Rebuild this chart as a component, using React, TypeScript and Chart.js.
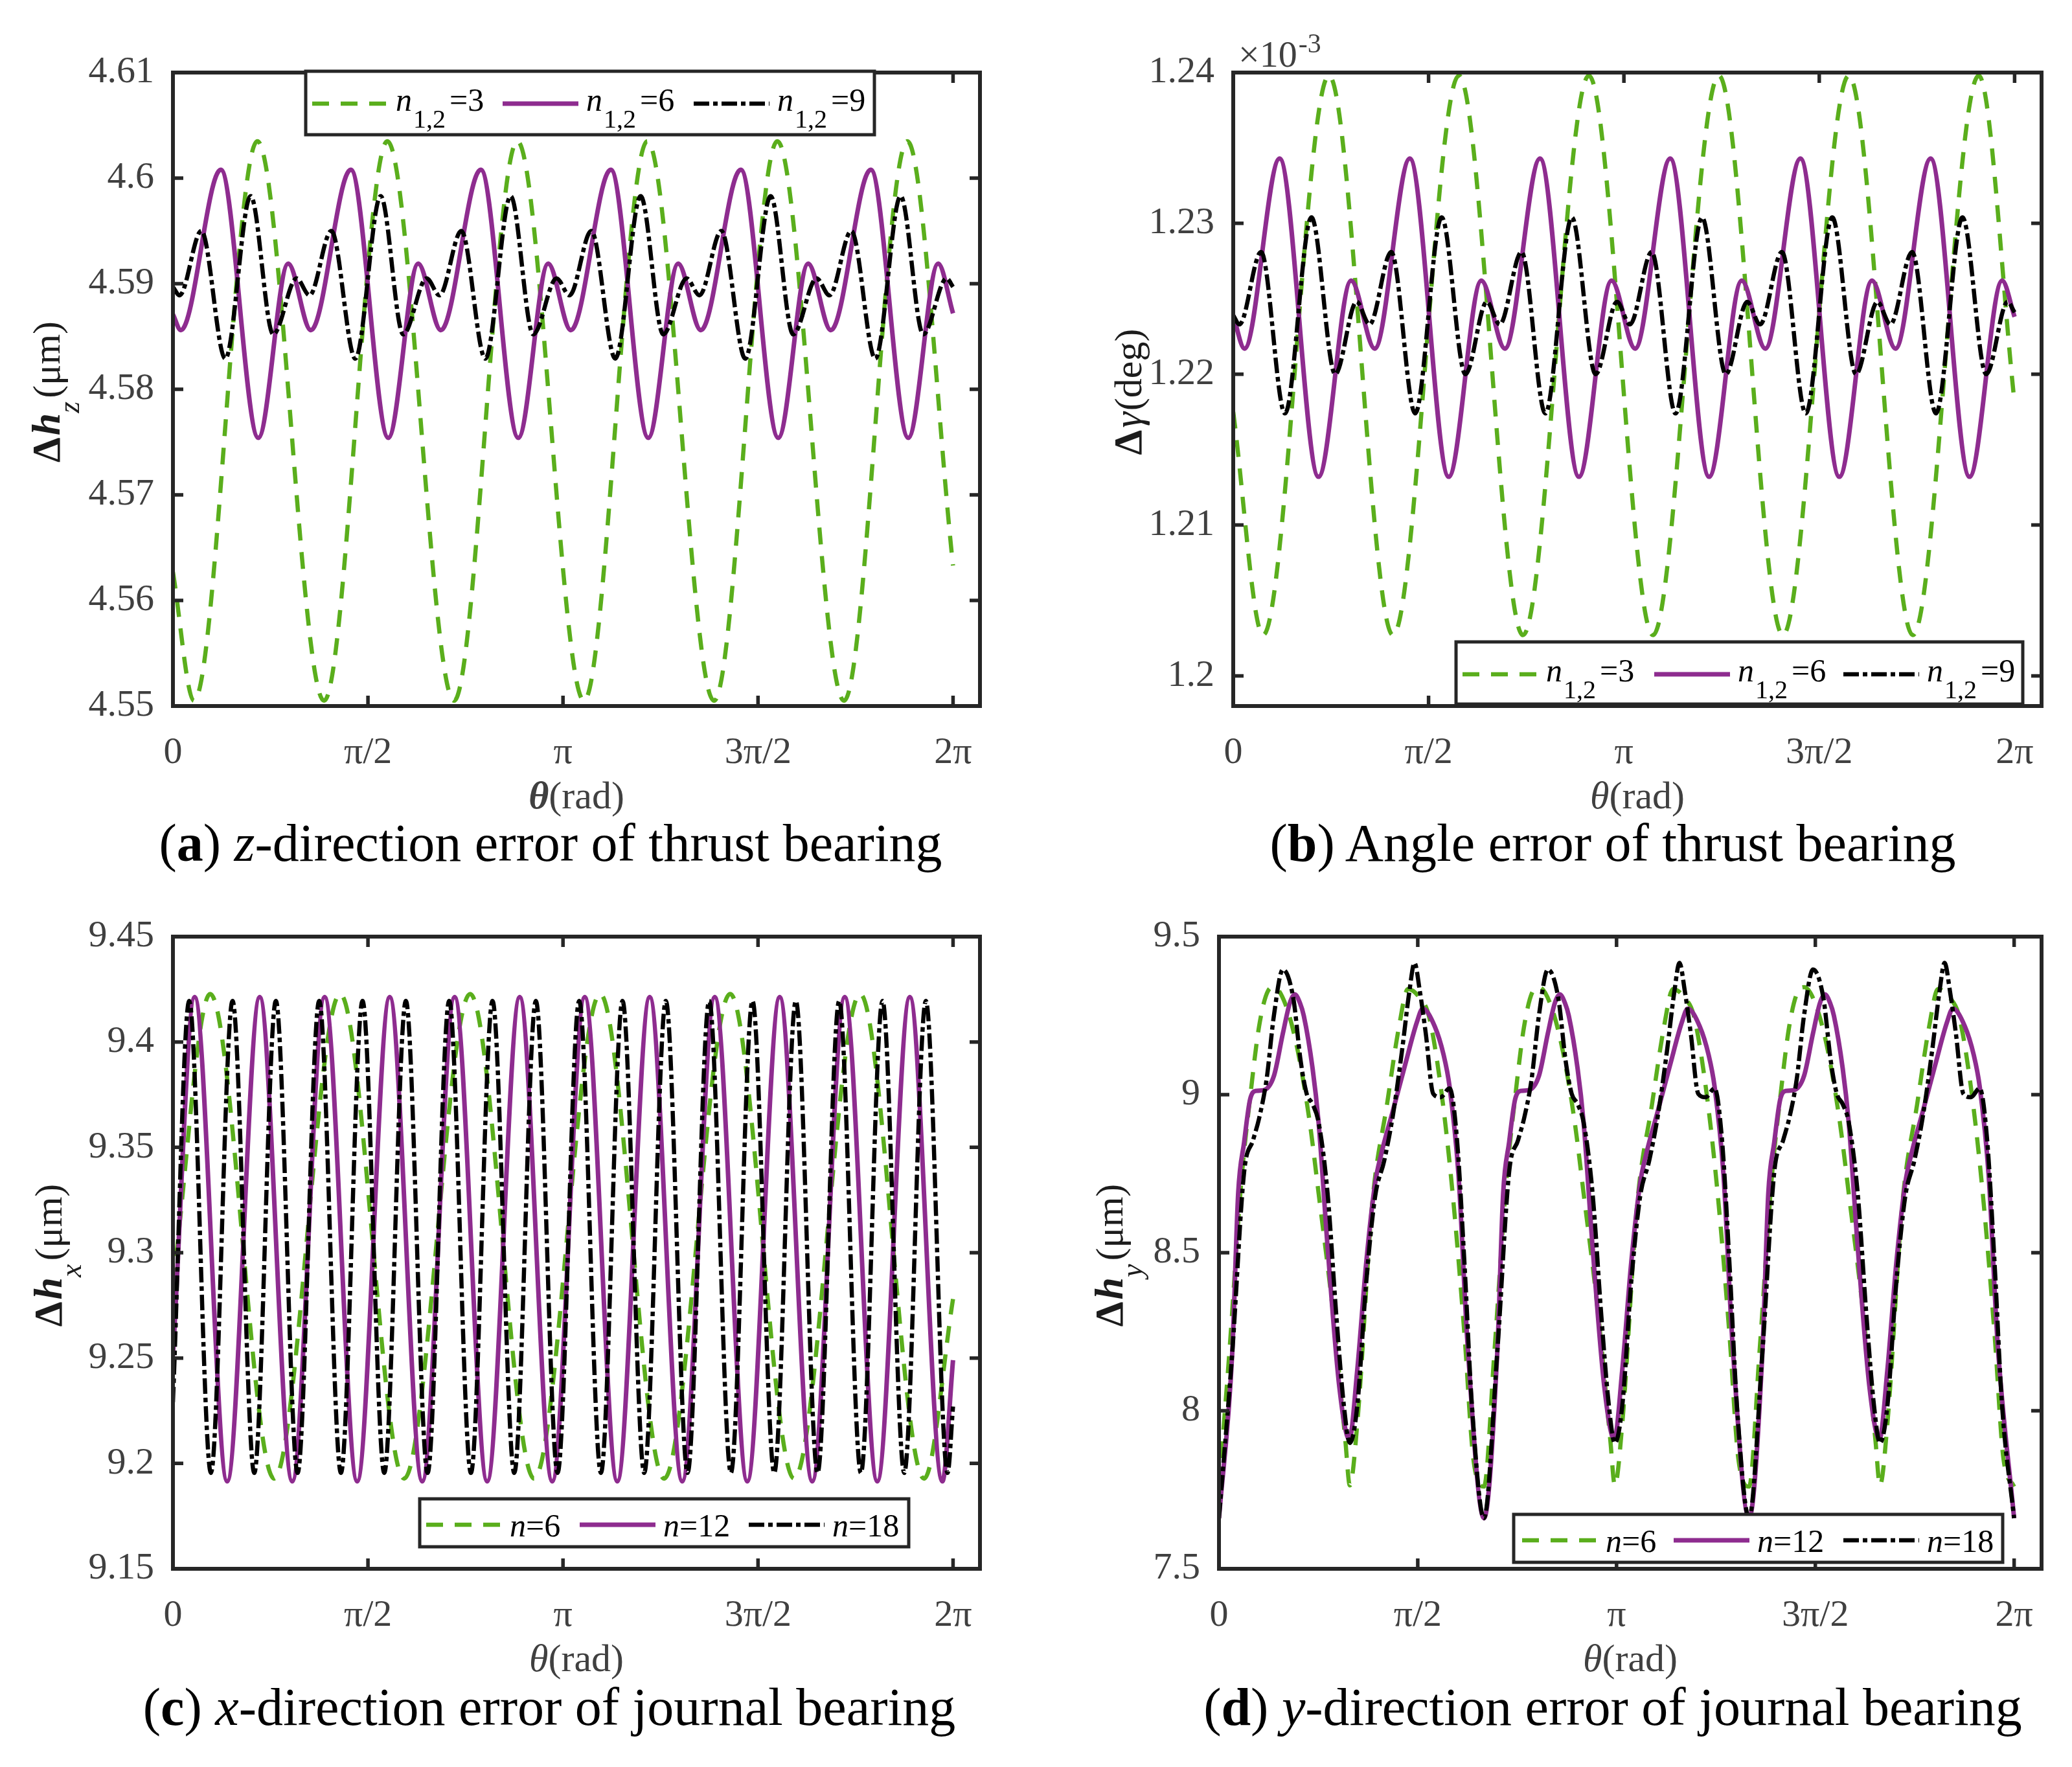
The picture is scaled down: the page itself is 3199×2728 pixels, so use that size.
import React, { useEffect, useRef } from 'react';
import { Chart, registerables } from 'chart.js';

Chart.register(...registerables);

const SERIF = "'Liberation Serif', 'Times New Roman', Times, serif";
const AXIS_COLOR = '#262626';
const TICK_TEXT = '#404040';
const LABEL_TEXT = '#1c1c1c';

const GREEN = '#5AAE1C';
const PURPLE = '#8E2C8F';
const BLACK = '#000000';

// ---------- shared x axis ----------
const THETA_MAX = 6.5;
const THETA_TICKS = [0, Math.PI / 2, Math.PI, (3 * Math.PI) / 2, 2 * Math.PI];
const THETA_TICK_LABELS = ['0', 'π/2', 'π', '3π/2', '2π'];

// ---------- (a) z-direction error of thrust bearing ----------
const A_Y_TICKS = [4.55, 4.56, 4.57, 4.58, 4.59, 4.6, 4.61];
const A_Y_TICK_LABELS = ['4.55', '4.56', '4.57', '4.58', '4.59', '4.6', '4.61'];
const A_N3_X = [0, 0.17, 0.68, 1.217, 1.727, 2.264, 2.774, 3.311, 3.821, 4.358, 4.868, 5.405, 5.915, 6.283];
const A_N3_Y = [4.5627, 4.5505, 4.6035, 4.5505, 4.6035, 4.5505, 4.6035, 4.5505, 4.6035, 4.5505, 4.6035, 4.5505, 4.6035, 4.5633];
const A_N6_X = [0, 0.064, 0.386, 0.688, 0.928, 1.111, 1.433, 1.735, 1.975, 2.158, 2.48, 2.782, 3.022, 3.205, 3.527, 3.829, 4.069, 4.252, 4.574, 4.876, 5.116, 5.299, 5.621, 5.923, 6.163, 6.283];
const A_N6_Y = [4.5871, 4.5856, 4.6008, 4.5754, 4.5919, 4.5856, 4.6008, 4.5754, 4.5919, 4.5856, 4.6008, 4.5754, 4.5919, 4.5856, 4.6008, 4.5754, 4.5919, 4.5856, 4.6008, 4.5754, 4.5919, 4.5856, 4.6008, 4.5754, 4.5919, 4.5872];
const A_N9_X = [0, 0.053, 0.229, 0.422, 0.626, 0.808, 0.996, 1.1, 1.276, 1.469, 1.673, 1.855, 2.043, 2.147, 2.323, 2.516, 2.72, 2.902, 3.09, 3.194, 3.37, 3.563, 3.767, 3.949, 4.137, 4.241, 4.417, 4.61, 4.814, 4.996, 5.184, 5.288, 5.464, 5.657, 5.861, 6.043, 6.231, 6.283];
const A_N9_Y = [4.5897, 4.5889, 4.595, 4.5829, 4.5983, 4.5852, 4.5905, 4.5889, 4.595, 4.5829, 4.5983, 4.5852, 4.5905, 4.5889, 4.595, 4.5829, 4.5983, 4.5852, 4.5905, 4.5889, 4.595, 4.5829, 4.5983, 4.5852, 4.5905, 4.5889, 4.595, 4.5829, 4.5983, 4.5852, 4.5905, 4.5889, 4.595, 4.5829, 4.5983, 4.5852, 4.5905, 4.5897];

// ---------- (b) angle error of thrust bearing (x 1e-3 deg) ----------
const B_Y_TICKS = [1.2, 1.21, 1.22, 1.23, 1.24];
const B_Y_TICK_LABELS = ['1.2', '1.21', '1.22', '1.23', '1.24'];
const B_N3_X = [0, 0.24, 0.77, 1.285, 1.815, 2.33, 2.86, 3.375, 3.905, 4.42, 4.95, 5.465, 5.995, 6.283];
const B_N3_Y = [1.2175, 1.2027, 1.2398, 1.2027, 1.2398, 1.2027, 1.2398, 1.2027, 1.2398, 1.2027, 1.2398, 1.2027, 1.2398, 1.2181];
const B_N6_X = [0, 0.091, 0.373, 0.686, 0.948, 1.138, 1.42, 1.733, 1.995, 2.185, 2.467, 2.78, 3.042, 3.232, 3.514, 3.827, 4.089, 4.279, 4.561, 4.874, 5.136, 5.326, 5.608, 5.921, 6.183, 6.283];
const B_N6_Y = [1.2239, 1.2217, 1.2343, 1.2132, 1.2262, 1.2217, 1.2343, 1.2132, 1.2262, 1.2217, 1.2343, 1.2132, 1.2262, 1.2217, 1.2343, 1.2132, 1.2262, 1.2217, 1.2343, 1.2132, 1.2262, 1.2217, 1.2343, 1.2132, 1.2262, 1.2238];
const B_N9_X = [0, 0.05, 0.224, 0.416, 0.629, 0.82, 0.992, 1.096, 1.271, 1.463, 1.676, 1.867, 2.039, 2.143, 2.318, 2.51, 2.723, 2.914, 3.086, 3.19, 3.365, 3.557, 3.77, 3.961, 4.133, 4.237, 4.412, 4.604, 4.817, 5.008, 5.18, 5.284, 5.459, 5.651, 5.864, 6.055, 6.227, 6.283];
const B_N9_Y = [1.2239, 1.2233, 1.2281, 1.2174, 1.2304, 1.22, 1.2248, 1.2233, 1.2281, 1.2174, 1.2304, 1.22, 1.2248, 1.2233, 1.2281, 1.2174, 1.2304, 1.22, 1.2248, 1.2233, 1.2281, 1.2174, 1.2304, 1.22, 1.2248, 1.2233, 1.2281, 1.2174, 1.2304, 1.22, 1.2248, 1.2233, 1.2281, 1.2174, 1.2304, 1.22, 1.2248, 1.2241];

// ---------- (c) x-direction error of journal bearing ----------
const C_Y_TICKS = [9.15, 9.2, 9.25, 9.3, 9.35, 9.4, 9.45];
const C_Y_TICK_LABELS = ['9.15', '9.2', '9.25', '9.3', '9.35', '9.4', '9.45'];
const C_N6_X = [0, 0.3, 0.815, 1.347, 1.862, 2.394, 2.909, 3.441, 3.956, 4.488, 5.003, 5.535, 6.05, 6.283];
const C_N6_Y = [9.285, 9.4228, 9.1928, 9.4228, 9.1928, 9.4228, 9.1928, 9.4228, 9.1928, 9.4228, 9.1928, 9.4228, 9.1928, 9.278];
const C_N12_X = [0, 0.175, 0.437, 0.699, 0.961, 1.222, 1.484, 1.746, 2.008, 2.269, 2.531, 2.793, 3.055, 3.317, 3.579, 3.84, 4.102, 4.364, 4.626, 4.887, 5.149, 5.411, 5.673, 5.935, 6.197, 6.283];
const C_N12_Y = [9.251, 9.4213, 9.1915, 9.4213, 9.1915, 9.4213, 9.1915, 9.4213, 9.1915, 9.4213, 9.1915, 9.4213, 9.1915, 9.4213, 9.1915, 9.4213, 9.1915, 9.4213, 9.1915, 9.4213, 9.1915, 9.4213, 9.1915, 9.4213, 9.1915, 9.249];
const C_N18_X = [0, 0.131, 0.306, 0.48, 0.655, 0.829, 1.004, 1.178, 1.353, 1.527, 1.702, 1.876, 2.051, 2.225, 2.4, 2.574, 2.749, 2.923, 3.098, 3.272, 3.447, 3.621, 3.796, 3.97, 4.145, 4.319, 4.494, 4.668, 4.843, 5.017, 5.192, 5.366, 5.541, 5.715, 5.89, 6.064, 6.239, 6.283];
const C_N18_Y = [9.229, 9.4195, 9.1955, 9.4195, 9.1955, 9.4195, 9.1955, 9.4195, 9.1955, 9.4195, 9.1955, 9.4195, 9.1955, 9.4195, 9.1955, 9.4195, 9.1955, 9.4195, 9.1955, 9.4195, 9.1955, 9.4195, 9.1955, 9.4195, 9.1955, 9.4195, 9.1955, 9.4195, 9.1955, 9.4195, 9.1955, 9.4195, 9.1955, 9.4195, 9.1955, 9.4195, 9.1955, 9.227];

// ---------- (d) y-direction error of journal bearing ----------
const D_Y_TICKS = [7.5, 8, 8.5, 9, 9.5];
const D_Y_TICK_LABELS = ['7.5', '8', '8.5', '9', '9.5'];
const D_N6_X = [
  0, 0.082, 0.176, 0.246, 0.317, 0.387, 0.435, 0.528, 0.623, 0.717, 0.787, 0.905, 0.999, 1.034, 1.093, 1.211, 1.328, 1.423, 1.493, 1.587, 1.658, 1.752, 1.846, 1.94, 2.01,
  2.094, 2.176, 2.27, 2.34, 2.411, 2.481, 2.529, 2.622, 2.717, 2.811, 2.881, 2.999, 3.093, 3.128, 3.187, 3.305, 3.422, 3.517, 3.587, 3.681, 3.752, 3.846, 3.94, 4.034, 4.104,
  4.189, 4.271, 4.365, 4.435, 4.506, 4.576, 4.624, 4.717, 4.812, 4.906, 4.976, 5.094, 5.188, 5.223, 5.282, 5.4, 5.517, 5.612, 5.682, 5.776, 5.847, 5.941, 6.035, 6.129, 6.199,
  6.283,
];
const D_N6_Y = [
  7.76, 8.184, 8.723, 8.99, 9.216, 9.328, 9.34, 9.283, 9.138, 8.913, 8.689, 8.297, 7.904, 7.764, 7.96, 8.655, 8.97, 9.216, 9.334, 9.306, 9.25, 9.026, 8.689, 8.24, 7.848,
  7.76, 8.184, 8.723, 8.99, 9.216, 9.328, 9.34, 9.283, 9.138, 8.913, 8.689, 8.297, 7.904, 7.764, 7.96, 8.655, 8.97, 9.216, 9.334, 9.306, 9.25, 9.026, 8.689, 8.24, 7.848,
  7.76, 8.184, 8.723, 8.99, 9.216, 9.328, 9.34, 9.283, 9.138, 8.913, 8.689, 8.297, 7.904, 7.764, 7.96, 8.655, 8.97, 9.216, 9.334, 9.306, 9.25, 9.026, 8.689, 8.24, 7.848,
  7.76,
];
const D_N12_X = [
  0, 0.105, 0.152, 0.199, 0.246, 0.293, 0.352, 0.434, 0.505, 0.56, 0.599, 0.64, 0.67, 0.74, 0.787, 0.858, 0.952, 1.03, 1.093, 1.164, 1.234, 1.281, 1.375, 1.47, 1.563, 1.61, 1.705, 1.775, 1.822, 1.893, 1.963,
  2.094, 2.199, 2.246, 2.293, 2.34, 2.387, 2.446, 2.528, 2.599, 2.654, 2.693, 2.734, 2.764, 2.834, 2.881, 2.952, 3.046, 3.124, 3.187, 3.258, 3.328, 3.375, 3.469, 3.564, 3.657, 3.704, 3.799, 3.869, 3.916, 3.987, 4.057,
  4.189, 4.294, 4.341, 4.388, 4.435, 4.482, 4.541, 4.623, 4.694, 4.749, 4.788, 4.829, 4.859, 4.929, 4.976, 5.047, 5.141, 5.219, 5.282, 5.353, 5.423, 5.47, 5.564, 5.659, 5.752, 5.799, 5.894, 5.964, 6.011, 6.082, 6.152,
  6.283,
];
const D_N12_Y = [
  7.66, 8.184, 8.689, 8.85, 8.985, 9.012, 9.014, 9.059, 9.194, 9.29, 9.317, 9.29, 9.25, 9.082, 8.913, 8.52, 8.072, 7.91, 8.13, 8.47, 8.72, 8.81, 8.95, 9.093, 9.228, 9.272, 9.216, 9.126, 9.026, 8.745, 8.218,
  7.66, 8.184, 8.689, 8.85, 8.985, 9.012, 9.014, 9.059, 9.194, 9.29, 9.317, 9.29, 9.25, 9.082, 8.913, 8.52, 8.072, 7.91, 8.13, 8.47, 8.72, 8.81, 8.95, 9.093, 9.228, 9.272, 9.216, 9.126, 9.026, 8.745, 8.218,
  7.66, 8.184, 8.689, 8.85, 8.985, 9.012, 9.014, 9.059, 9.194, 9.29, 9.317, 9.29, 9.25, 9.082, 8.913, 8.52, 8.072, 7.91, 8.13, 8.47, 8.72, 8.81, 8.95, 9.093, 9.228, 9.272, 9.216, 9.126, 9.026, 8.745, 8.218,
  7.66,
];
const D_N18_X = [
  0, 0.105, 0.199, 0.27, 0.317, 0.376, 0.434, 0.505, 0.587, 0.646, 0.693, 0.74, 0.787, 0.858, 0.928, 0.987, 1.034, 1.093, 1.164, 1.234, 1.305, 1.375, 1.446, 1.505, 1.545, 1.587, 1.634, 1.693, 1.752, 1.822, 1.881, 1.94, 1.999,
  2.094, 2.199, 2.293, 2.364, 2.411, 2.47, 2.528, 2.599, 2.681, 2.74, 2.787, 2.834, 2.881, 2.952, 3.022, 3.081, 3.128, 3.187, 3.258, 3.328, 3.399, 3.469, 3.54, 3.599, 3.639, 3.681, 3.728, 3.787, 3.846, 3.916, 3.975, 4.034, 4.093,
  4.189, 4.294, 4.388, 4.459, 4.506, 4.565, 4.623, 4.694, 4.776, 4.835, 4.882, 4.929, 4.976, 5.047, 5.117, 5.176, 5.223, 5.282, 5.353, 5.423, 5.494, 5.564, 5.635, 5.694, 5.734, 5.776, 5.823, 5.882, 5.941, 6.011, 6.07, 6.129, 6.188,
  6.283,
];
const D_N18_Y = [
  7.66, 8.184, 8.756, 8.857, 8.925, 9.048, 9.25, 9.396, 9.306, 9.105, 9.003, 8.97, 8.913, 8.689, 8.297, 8.016, 7.898, 8.016, 8.409, 8.678, 8.79, 8.936, 9.138, 9.328, 9.417, 9.328, 9.194, 9.003, 8.992, 9.02, 8.857, 8.465, 8.016,
  7.66, 8.184, 8.756, 8.857, 8.925, 9.048, 9.25, 9.396, 9.306, 9.105, 9.003, 8.97, 8.913, 8.689, 8.297, 8.016, 7.898, 8.016, 8.409, 8.678, 8.79, 8.936, 9.138, 9.328, 9.417, 9.328, 9.194, 9.003, 8.992, 9.02, 8.857, 8.465, 8.016,
  7.66, 8.184, 8.756, 8.857, 8.925, 9.048, 9.25, 9.396, 9.306, 9.105, 9.003, 8.97, 8.913, 8.689, 8.297, 8.016, 7.898, 8.016, 8.409, 8.678, 8.79, 8.936, 9.138, 9.328, 9.417, 9.328, 9.194, 9.003, 8.992, 9.02, 8.857, 8.465, 8.016,
  7.66,
];

// ---------- text helpers ----------
type Seg = { t: string; font: string; dx?: number; dy?: number };

function segsWidth(ctx: CanvasRenderingContext2D, segs: Seg[]) {
  let w = 0;
  for (const s of segs) {
    ctx.font = s.font;
    w += (s.dx || 0) + ctx.measureText(s.t).width;
  }
  return w;
}

function drawSegs(ctx: CanvasRenderingContext2D, segs: Seg[], x: number, y: number) {
  let cx = x;
  for (const s of segs) {
    ctx.font = s.font;
    cx += s.dx || 0;
    ctx.fillText(s.t, cx, y + (s.dy || 0));
    cx += ctx.measureText(s.t).width;
  }
}

const LEG_IT = `italic 50px ${SERIF}`;
const LEG_R = `50px ${SERIF}`;
const LEG_SUB = `40px ${SERIF}`;
const legN12 = (v: string): Seg[] => [
  { t: 'n', font: LEG_IT },
  { t: '1,2', font: LEG_SUB, dx: 2, dy: 26 },
  { t: '=' + v, font: LEG_R, dx: 6 },
];
const legN = (v: string): Seg[] => [
  { t: 'n', font: LEG_IT },
  { t: '=' + v, font: LEG_R },
];

const YL_D = `bold 62px ${SERIF}`;
const YL_H = `bold italic 62px ${SERIF}`;
const YL_G = `italic 62px ${SERIF}`;
const YL_SUB = `italic 46px ${SERIF}`;
const YL_R = `60px ${SERIF}`;
const yLabelH = (sub: string): Seg[] => [
  { t: 'Δ', font: YL_D },
  { t: 'h', font: YL_H, dx: 3 },
  { t: sub, font: YL_SUB, dy: 30 },
  { t: '(μm)', font: YL_R, dx: 5 },
];
const xLabel = (bold: boolean): Seg[] => [
  { t: 'θ', font: `${bold ? 'bold ' : ''}italic 60px ${SERIF}` },
  { t: '(rad)', font: `60px ${SERIF}` },
];

// ---------- panel specs ----------
interface SeriesSpec { x: number[]; y: number[]; color: string; width: number; dash: number[] }
interface LegendSpec {
  anchor: 'tl' | 'br'; dx: number; dy: number; w: number; h: number;
  offsets: number[]; lineDy: number; textDy: number; labels: Seg[][];
}
interface PanelSpec {
  id: string; left: number; top: number; width: number; height: number;
  area: { left: number; top: number; right: number; bottom: number };
  yMin: number; yMax: number; yTicks: number[]; yTickLabels: string[];
  series: SeriesSpec[]; legend: LegendSpec;
  yLabel: Seg[]; yLabelDx: number; xLabel: Seg[];
  extra?: { segs: Seg[]; dx: number; dy: number };
}

const GREEN_STYLE = { color: GREEN, width: 6.5, dash: [26, 18] };
const PURPLE_STYLE = { color: PURPLE, width: 7, dash: [] as number[] };
const BLACK_STYLE = { color: BLACK, width: 6.5, dash: [24, 6, 7, 6] };

const PANELS: PanelSpec[] = [
  {
    id: 'a', left: 0, top: 0, width: 1600, height: 1290,
    area: { left: 267, top: 112, right: 1513, bottom: 1090 },
    yMin: 4.55, yMax: 4.61, yTicks: A_Y_TICKS, yTickLabels: A_Y_TICK_LABELS,
    series: [
      { x: A_N3_X, y: A_N3_Y, ...GREEN_STYLE },
      { x: A_N6_X, y: A_N6_Y, ...PURPLE_STYLE },
      { x: A_N9_X, y: A_N9_Y, ...BLACK_STYLE },
    ],
    legend: { anchor: 'tl', dx: 205, dy: -2, w: 878, h: 98, offsets: [10, 304, 599], lineDy: 50, textDy: 61, labels: [legN12('3'), legN12('6'), legN12('9')] },
    yLabel: yLabelH('z'), yLabelDx: -175, xLabel: xLabel(true),
  },
  {
    id: 'b', left: 1600, top: 0, width: 1599, height: 1290,
    area: { left: 304, top: 112, right: 1552, bottom: 1090 },
    yMin: 1.198, yMax: 1.24, yTicks: B_Y_TICKS, yTickLabels: B_Y_TICK_LABELS,
    series: [
      { x: B_N3_X, y: B_N3_Y, ...GREEN_STYLE },
      { x: B_N6_X, y: B_N6_Y, ...PURPLE_STYLE },
      { x: B_N9_X, y: B_N9_Y, ...BLACK_STYLE },
    ],
    legend: { anchor: 'br', dx: 29, dy: 3, w: 875, h: 96, offsets: [10, 306, 598], lineDy: 50, textDy: 61, labels: [legN12('3'), legN12('6'), legN12('9')] },
    yLabel: [
      { t: 'Δ', font: YL_D },
      { t: 'γ', font: YL_G, dx: 3 },
      { t: '(deg)', font: YL_R, dx: 2 },
    ],
    yLabelDx: -142, xLabel: xLabel(false),
    extra: { segs: [{ t: '×10', font: `58px ${SERIF}` }, { t: '-3', font: `42px ${SERIF}`, dx: 2, dy: -22 }], dx: 8, dy: -9 },
  },
  {
    id: 'c', left: 0, top: 1290, width: 1600, height: 1438,
    area: { left: 267, top: 156, right: 1513, bottom: 1132 },
    yMin: 9.15, yMax: 9.45, yTicks: C_Y_TICKS, yTickLabels: C_Y_TICK_LABELS,
    series: [
      { x: C_N6_X, y: C_N6_Y, ...GREEN_STYLE },
      { x: C_N12_X, y: C_N12_Y, ...PURPLE_STYLE },
      { x: C_N18_X, y: C_N18_Y, ...BLACK_STYLE },
    ],
    legend: { anchor: 'br', dx: 110, dy: 34, w: 755, h: 74, offsets: [10, 247, 508], lineDy: 40, textDy: 58, labels: [legN('6'), legN('12'), legN('18')] },
    yLabel: yLabelH('x'), yLabelDx: -172, xLabel: xLabel(false),
  },
  {
    id: 'd', left: 1600, top: 1290, width: 1599, height: 1438,
    area: { left: 282, top: 156, right: 1552, bottom: 1132 },
    yMin: 7.5, yMax: 9.5, yTicks: D_Y_TICKS, yTickLabels: D_Y_TICK_LABELS,
    series: [
      { x: D_N6_X, y: D_N6_Y, ...GREEN_STYLE },
      { x: D_N12_X, y: D_N12_Y, ...PURPLE_STYLE },
      { x: D_N18_X, y: D_N18_Y, ...BLACK_STYLE },
    ],
    legend: { anchor: 'br', dx: 60, dy: 10, w: 755, h: 74, offsets: [13, 247, 509], lineDy: 40, textDy: 58, labels: [legN('6'), legN('12'), legN('18')] },
    yLabel: yLabelH('y'), yLabelDx: -149, xLabel: xLabel(false),
  },
];

// ---------- plugin: MATLAB-like box, inward ticks, legend, axis labels ----------
function makePlugin(p: PanelSpec) {
  const SAMPLE = 117;
  const TL = 16;
  return {
    id: 'matlab-' + p.id,
    afterDatasetsDraw(chart: any) {
      const ctx = chart.ctx as CanvasRenderingContext2D;
      const ca = chart.chartArea;
      const xs = chart.scales.x;
      const ys = chart.scales.y;
      ctx.save();
      ctx.setLineDash([]);
      ctx.strokeStyle = AXIS_COLOR;
      ctx.lineWidth = 5.5;
      ctx.lineCap = 'butt';
      ctx.beginPath();
      for (const t of xs.ticks) {
        const px = xs.getPixelForValue(t.value);
        ctx.moveTo(px, ca.bottom); ctx.lineTo(px, ca.bottom - TL);
        ctx.moveTo(px, ca.top); ctx.lineTo(px, ca.top + TL);
      }
      for (const t of ys.ticks) {
        const py = ys.getPixelForValue(t.value);
        ctx.moveTo(ca.left, py); ctx.lineTo(ca.left + TL, py);
        ctx.moveTo(ca.right, py); ctx.lineTo(ca.right - TL, py);
      }
      ctx.stroke();
      ctx.lineWidth = 6;
      ctx.lineJoin = 'miter';
      ctx.strokeRect(ca.left, ca.top, ca.right - ca.left, ca.bottom - ca.top);

      // legend
      const lg = p.legend;
      const bx = lg.anchor === 'tl' ? ca.left + lg.dx : ca.right - lg.dx - lg.w;
      const by = lg.anchor === 'tl' ? ca.top + lg.dy : ca.bottom - lg.dy - lg.h;
      ctx.fillStyle = '#ffffff';
      ctx.fillRect(bx, by, lg.w, lg.h);
      ctx.strokeStyle = AXIS_COLOR;
      ctx.lineWidth = 5;
      ctx.strokeRect(bx, by, lg.w, lg.h);
      p.series.forEach((s, i) => {
        const ox = bx + lg.offsets[i];
        ctx.strokeStyle = s.color;
        ctx.lineWidth = s.width;
        ctx.setLineDash(s.dash);
        ctx.beginPath();
        ctx.moveTo(ox, by + lg.lineDy);
        ctx.lineTo(ox + SAMPLE, by + lg.lineDy);
        ctx.stroke();
        ctx.setLineDash([]);
        ctx.fillStyle = '#000000';
        ctx.textAlign = 'left';
        ctx.textBaseline = 'alphabetic';
        drawSegs(ctx, lg.labels[i], ox + SAMPLE + 12, by + lg.textDy);
      });
      ctx.restore();
    },
    afterDraw(chart: any) {
      const ctx = chart.ctx as CanvasRenderingContext2D;
      const ca = chart.chartArea;
      ctx.save();
      ctx.textAlign = 'left';
      ctx.textBaseline = 'alphabetic';
      // y label (rotated)
      ctx.fillStyle = LABEL_TEXT;
      const yw = segsWidth(ctx, p.yLabel);
      ctx.save();
      ctx.translate(ca.left + p.yLabelDx, (ca.top + ca.bottom) / 2 + 4);
      ctx.rotate(-Math.PI / 2);
      drawSegs(ctx, p.yLabel, -yw / 2, 0);
      ctx.restore();
      // x label
      ctx.fillStyle = TICK_TEXT;
      const xw = segsWidth(ctx, p.xLabel);
      drawSegs(ctx, p.xLabel, (ca.left + ca.right) / 2 - xw / 2, ca.bottom + 158);
      // exponent
      if (p.extra) {
        drawSegs(ctx, p.extra.segs, ca.left + p.extra.dx, ca.top + p.extra.dy);
      }
      ctx.restore();
    },
  };
}

function buildConfig(p: PanelSpec): any {
  const tickFont = { family: SERIF, size: 58 };
  const datasets = p.series.map((s, i) => ({
    data: s.x.map((x, k) => ({ x, y: s.y[k] })),
    borderColor: s.color,
    borderWidth: s.width,
    borderDash: s.dash,
    borderCapStyle: 'butt',
    borderJoinStyle: 'round',
    pointRadius: 0,
    pointHoverRadius: 0,
    fill: false,
    cubicInterpolationMode: 'monotone',
    order: p.series.length - i,
  }));
  return {
    type: 'line',
    data: { datasets },
    options: {
      responsive: false,
      animation: false,
      devicePixelRatio: 1,
      events: [],
      layout: { padding: { left: 0, top: p.area.top, right: p.width - p.area.right, bottom: 0 } },
      plugins: { legend: { display: false }, tooltip: { enabled: false }, title: { display: false } },
      scales: {
        x: {
          type: 'linear',
          min: 0,
          max: THETA_MAX,
          grid: { display: false },
          border: { display: false },
          afterBuildTicks: (scale: any) => { scale.ticks = THETA_TICKS.map((v) => ({ value: v })); },
          afterFit: (scale: any) => { scale.height = p.height - p.area.bottom; },
          ticks: {
            font: tickFont, color: TICK_TEXT, padding: 30, autoSkip: false, maxRotation: 0, minRotation: 0,
            callback: (_v: any, i: number) => THETA_TICK_LABELS[i],
          },
        },
        y: {
          type: 'linear',
          min: p.yMin,
          max: p.yMax,
          grid: { display: false },
          border: { display: false },
          afterBuildTicks: (scale: any) => { scale.ticks = p.yTicks.map((v) => ({ value: v })); },
          afterFit: (scale: any) => { scale.width = p.area.left; },
          ticks: {
            font: tickFont, color: TICK_TEXT, padding: 21, autoSkip: false,
            callback: (_v: any, i: number) => p.yTickLabels[i],
          },
        },
      },
    },
    plugins: [makePlugin(p)],
  };
}

function PanelChart({ panel }: { panel: PanelSpec }) {
  const ref = useRef<HTMLCanvasElement | null>(null);
  useEffect(() => {
    if (!ref.current) return;
    const chart = new Chart(ref.current, buildConfig(panel));
    return () => chart.destroy();
  }, [panel]);
  return (
    <canvas
      ref={ref}
      width={panel.width}
      height={panel.height}
      style={{ position: 'absolute', left: panel.left, top: panel.top, width: panel.width, height: panel.height }}
    />
  );
}

const CAPTION_SIZE = 82;
function Caption({ cx, baseline, children }: { cx: number; baseline: number; children: React.ReactNode }) {
  return (
    <div
      style={{
        position: 'absolute',
        left: cx - 1000,
        width: 2000,
        top: baseline - 0.8375 * CAPTION_SIZE,
        fontFamily: SERIF,
        fontSize: CAPTION_SIZE,
        lineHeight: `${CAPTION_SIZE}px`,
        textAlign: 'center',
        color: '#000',
        whiteSpace: 'nowrap',
      }}
    >
      {children}
    </div>
  );
}

export default function App() {
  return (
    <div style={{ position: 'absolute', left: 0, top: 0, width: 3199, height: 2728, background: '#ffffff', overflow: 'hidden' }}>
      {PANELS.map((p) => (
        <PanelChart key={p.id} panel={p} />
      ))}
      <Caption cx={850} baseline={1330}>
        (<b>a</b>) <i>z</i>-direction error of thrust bearing
      </Caption>
      <Caption cx={2490} baseline={1330}>
        (<b>b</b>) Angle error of thrust bearing
      </Caption>
      <Caption cx={848} baseline={2664}>
        (<b>c</b>) <i>x</i>-direction error of journal bearing
      </Caption>
      <Caption cx={2490} baseline={2664}>
        (<b>d</b>) <i>y</i>-direction error of journal bearing
      </Caption>
    </div>
  );
}
